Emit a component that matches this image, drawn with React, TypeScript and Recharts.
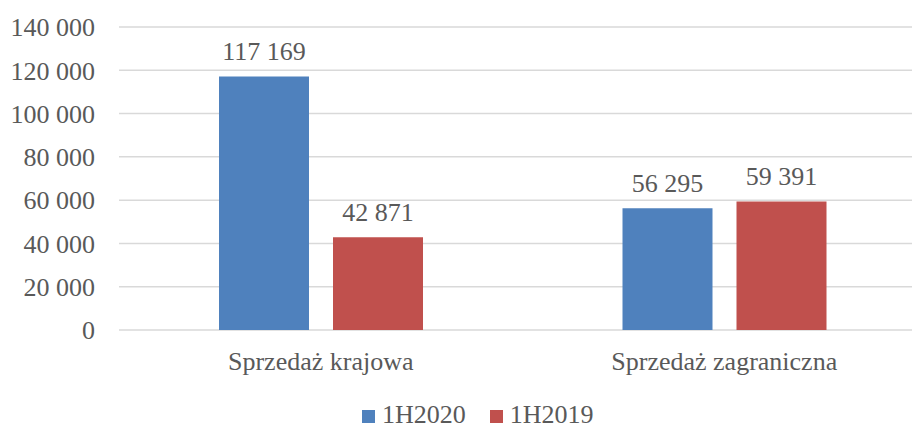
import { BarChart, Bar, XAxis, YAxis, CartesianGrid, Legend, LabelList } from 'recharts';

const categories = ['Sprzedaż krajowa', 'Sprzedaż zagraniczna'];
const sales2020 = [117169, 56295];
const sales2019 = [42871, 59391];
const yTicks = [0, 20000, 40000, 60000, 80000, 100000, 120000, 140000];

const FONT = "'Liberation Serif', 'Times New Roman', Times, 'DejaVu Serif', serif";
const FS = 26;
const TEXT = '#595959';
const BLUE = '#4F81BD';
const RED = '#C0504D';

const data = categories.map((name, i) => ({
    name,
    y2020: sales2020[i],
    y2019: sales2019[i],
}));

const fmt = (v: number) => String(v).replace(/\B(?=(\d{3})+(?!\d))/g, ' ');

function LegendBox() {
    const items = [
        { label: '1H2020', color: BLUE },
        { label: '1H2019', color: RED },
    ];
    return (
        <div
            style={{
                height: 30,
                lineHeight: '30px',
                fontFamily: FONT,
                fontSize: FS,
                color: TEXT,
                paddingLeft: 362,
                whiteSpace: 'nowrap',
            }}
        >
            {items.map((it) => (
                <span key={it.label} style={{ display: 'inline-block', marginRight: 24 }}>
                    <span
                        style={{
                            display: 'inline-block',
                            width: 13,
                            height: 13,
                            background: it.color,
                            marginRight: 7,
                        }}
                    />
                    {it.label}
                </span>
            ))}
        </div>
    );
}

export default function App() {
    return (
        <div style={{ width: 912, height: 423, overflow: 'hidden', position: 'relative', fontFamily: FONT }}>
            <style>{'body{margin:0}'}</style>
            <BarChart
                width={926}
                height={430}
                data={data}
                margin={{ top: 27, right: 0, left: 0, bottom: 0 }}
                barSize={90}
                barGap={24}
                style={{ fontFamily: FONT }}
            >
                <CartesianGrid vertical={false} stroke="#D9D9D9" strokeWidth={1.5} />
                <XAxis
                    dataKey="name"
                    axisLine={false}
                    tickLine={false}
                    height={70}
                    tickMargin={16}
                    tick={{ fontSize: FS, fill: TEXT, fontFamily: FONT }}
                />
                <YAxis
                    width={119}
                    domain={[0, 140000]}
                    ticks={yTicks}
                    axisLine={false}
                    tickLine={false}
                    tickMargin={18}
                    tickFormatter={fmt}
                    tick={{ fontSize: FS, fill: TEXT, fontFamily: FONT }}
                />
                <Legend verticalAlign="bottom" content={() => <LegendBox />} />
                <Bar dataKey="y2020" fill={BLUE} isAnimationActive={false}>
                    <LabelList
                        dataKey="y2020"
                        position="top"
                        offset={16}
                        formatter={(v: any) => fmt(Number(v))}
                        style={{ fontSize: FS, fill: TEXT, fontFamily: FONT }}
                    />
                </Bar>
                <Bar dataKey="y2019" fill={RED} isAnimationActive={false}>
                    <LabelList
                        dataKey="y2019"
                        position="top"
                        offset={16}
                        formatter={(v: any) => fmt(Number(v))}
                        style={{ fontSize: FS, fill: TEXT, fontFamily: FONT }}
                    />
                </Bar>
            </BarChart>
        </div>
    );
}
